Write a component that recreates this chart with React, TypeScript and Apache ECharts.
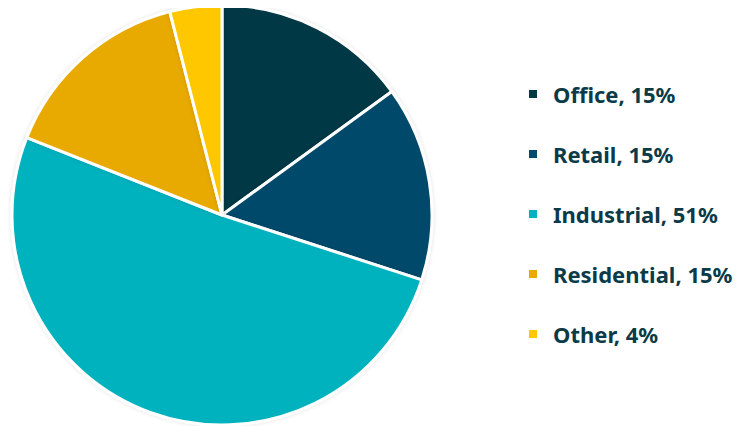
import React, { useEffect, useRef } from "react";
import * as echarts from "echarts";

const categories = ["Office", "Retail", "Industrial", "Residential", "Other"];
const values = [15, 15, 51, 15, 4];
const colors = ["#003845", "#004a6b", "#00b2be", "#e8a900", "#ffc700"];

export default function App() {
  const ref = useRef<HTMLDivElement>(null);
  useEffect(() => {
    if (!ref.current) return;
    const chart = echarts.init(ref.current, undefined, { renderer: "svg" });
    const data = categories.map((c, i) => ({ name: c, value: values[i], itemStyle: { color: colors[i] } }));
    chart.setOption({
      animation: false,
      legend: {
        orient: "vertical",
        left: 514,
        top: 70,
        itemWidth: 10,
        itemHeight: 10,
        itemGap: 38,
        icon: "rect",
        formatter: (name: string) => {
          const i = categories.indexOf(name);
          return `${name}, ${values[i]}%`;
        },
        textStyle: {
          fontFamily: "Noto Sans",
          fontWeight: "bold",
          fontSize: 22,
          lineHeight: 22,
          color: "#0b3a48",
          padding: [0, 0, 0, 10],
        },
      },
      series: [
        {
          type: "pie",
          center: [214, 207],
          radius: 210,
          startAngle: 90,
          clockwise: true,
          label: { show: false },
          labelLine: { show: false },
          emphasis: { disabled: true },
          itemStyle: {
            borderColor: "#ffffff",
            borderWidth: 3,
            shadowBlur: 4,
            shadowColor: "rgba(0,0,0,0.12)",
          },
          data,
        },
      ],
    });
    return () => chart.dispose();
  }, []);
  return <div ref={ref} style={{ width: 742, height: 426 }} />;
}
